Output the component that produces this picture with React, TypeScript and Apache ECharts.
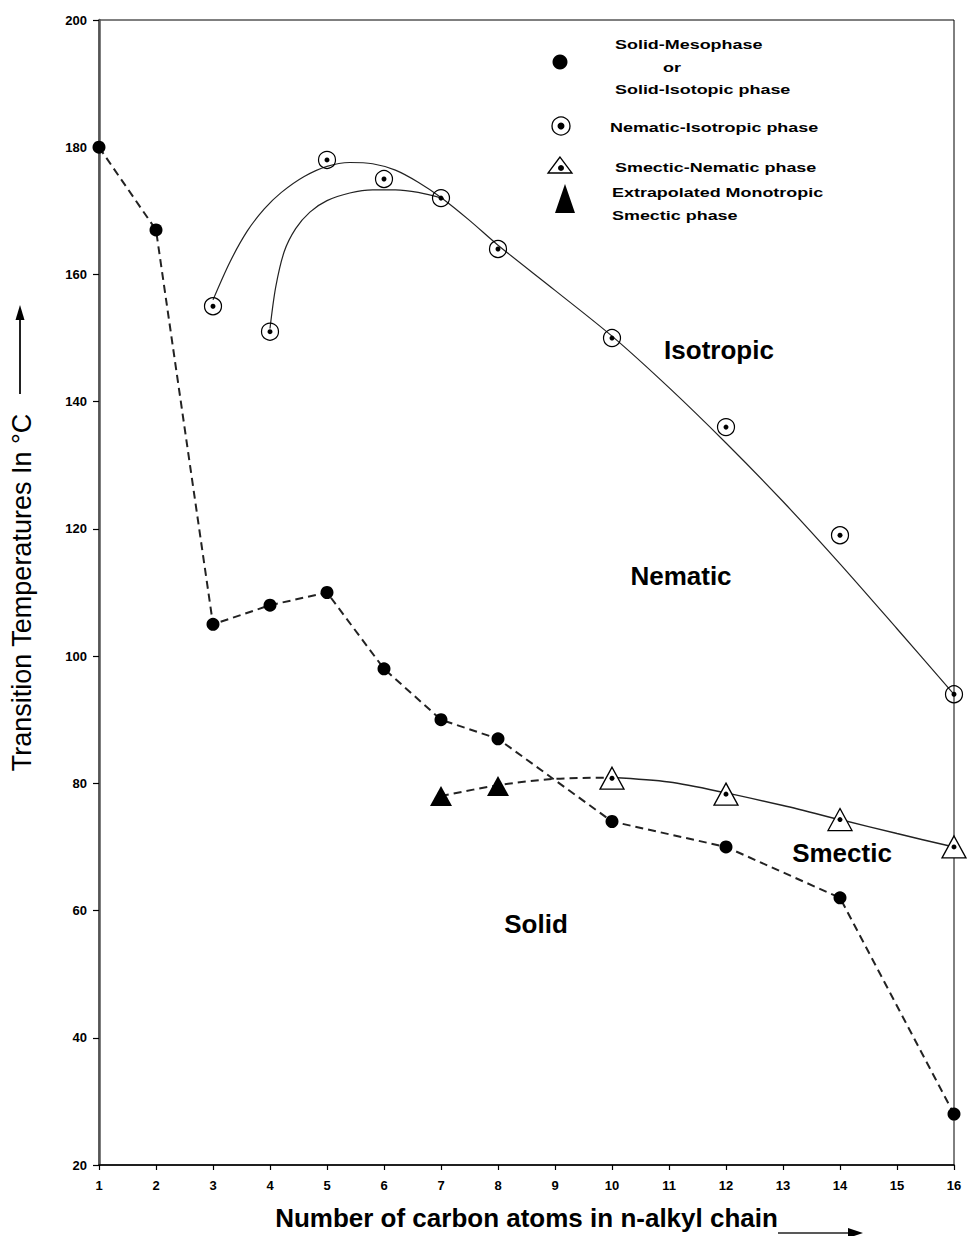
import React, { useEffect, useRef } from "react";
import * as echarts from "echarts";

// ---- data ----
const solidX = [1, 2, 3, 4, 5, 6, 7, 8, 10, 12, 14, 16];
const solidTemps = [180, 167, 105, 108, 110, 98, 90, 87, 74, 70, 62, 28];

const nematicIsoX = [3, 4, 5, 6, 7, 8, 10, 12, 14, 16];
const nematicIsoTemps = [155, 151, 178, 175, 172, 164, 150, 136, 119, 94];

const smecticNematicX = [10, 12, 14, 16];
const smecticNematicTemps = [80.8, 78.3, 74.3, 70];

const monotropicX = [7, 8];
const monotropicTemps = [78, 79.6];

// trend curves, points read along the hand-drawn curves of the reference
const oddCurveX = [3, 3.3, 3.6, 3.9, 4.2, 4.6, 5.0, 5.4, 5.8, 6.2, 6.6, 7.0, 7.5, 8, 9, 10, 11, 12, 13, 14, 15, 16];
const oddCurveY = [156, 162, 166.8, 170.3, 172.9, 175.4, 177.0, 177.6, 177.4, 176.4, 174.5, 172.1, 168.5, 164.6, 157.5, 150.3, 142.2, 133.5, 124.3, 114.5, 104.3, 94];
const evenCurveX = [4, 4.1, 4.25, 4.45, 4.7, 5.0, 5.4, 5.8, 6.2, 6.6, 7.05];
const evenCurveY = [151.5, 158, 163.6, 167.2, 169.8, 171.6, 172.8, 173.3, 173.3, 172.9, 171.9];
const smecticCurveX = [10, 11, 12, 13, 14, 15, 16];
const smecticCurveY = [80.9, 80.2, 78.5, 76.5, 74.3, 72.1, 70];
const extrapCurveX = [7, 8, 9, 10];
const extrapCurveY = [78, 79.7, 80.7, 80.9];

const xMin = 1, xMax = 16, xStep = 1;
const yMin = 20, yMax = 200, yStep = 20;

const regionLabels = ["Isotropic", "Nematic", "Smectic", "Solid"];
const legendTexts = [
  "Solid-Mesophase",
  "or",
  "Solid-Isotopic phase",
  "Nematic-Isotropic phase",
  "Smectic-Nematic phase",
  "Extrapolated Monotropic",
  "Smectic phase",
];

const zip = (xs: number[], ys: number[]) => xs.map((x, i) => [x, ys[i]]);

const FONT = "'Liberation Sans', Arial, Helvetica, sans-serif";

export default function App() {
  const ref = useRef<HTMLDivElement>(null);

  useEffect(() => {
    if (!ref.current) return;
    const chart = echarts.init(ref.current, null, { renderer: "svg" });

    const legendText = (text: string, x: number, y: number, align: string = "left") => ({
      type: "text",
      x,
      y,
      scaleX: 1.38,
      style: {
        text,
        fill: "#000",
        font: `bold 13px ${FONT}`,
        textAlign: align,
        textVerticalAlign: "middle",
      },
    });

    const regionText = (text: string, x: number, y: number) => ({
      type: "text",
      x,
      y,
      style: {
        text,
        fill: "#000",
        font: `bold 26px ${FONT}`,
        textAlign: "center",
        textVerticalAlign: "middle",
      },
    });

    const curve = (name: string, xs: number[], ys: number[], dashed: boolean, width: number) => ({
      name,
      type: "line",
      data: zip(xs, ys),
      smooth: 0.3,
      showSymbol: false,
      symbol: "none",
      lineStyle: { color: "#222", width, type: dashed ? [8, 5] : "solid" },
      z: 2,
    });

    const option: any = {
      animation: false,
      backgroundColor: "#fff",
      grid: {
        left: 98,
        right: 14,
        top: 20,
        bottom: 68,
        show: true,
        borderColor: "#000",
        borderWidth: 1,
        containLabel: false,
      },
      xAxis: {
        type: "value",
        min: xMin,
        max: xMax,
        interval: xStep,
        name: "Number of carbon atoms in n-alkyl chain",
        nameLocation: "middle",
        nameGap: 40,
        nameTextStyle: { fontFamily: FONT, fontWeight: "bold", fontSize: 26, color: "#000" },
        axisLine: { show: true, lineStyle: { color: "#000", width: 1.5 } },
        axisTick: { show: true, length: 5, lineStyle: { color: "#000", width: 1.2 } },
        axisLabel: { fontFamily: FONT, fontWeight: "bold", fontSize: 13, color: "#000", margin: 14 },
        splitLine: { show: false },
      },
      yAxis: {
        type: "value",
        min: yMin,
        max: yMax,
        interval: yStep,
        name: "Transition Temperatures In °C",
        nameLocation: "middle",
        nameRotate: 90,
        nameGap: 64,
        nameTextStyle: { fontFamily: FONT, fontSize: 27, color: "#000" },
        axisLine: { show: true, lineStyle: { color: "#555", width: 2.5 } },
        axisTick: { show: true, length: 6, lineStyle: { color: "#000", width: 1.2 } },
        axisLabel: { fontFamily: FONT, fontWeight: "bold", fontSize: 13, color: "#000", margin: 12 },
        splitLine: { show: false },
      },
      series: [
        {
          name: "Solid-Mesophase or Solid-Isotopic phase",
          type: "line",
          data: zip(solidX, solidTemps),
          symbol: "circle",
          symbolSize: 13,
          itemStyle: { color: "#000", opacity: 1 },
          lineStyle: { color: "#222", width: 2, type: [8, 5] },
          z: 3,
        },
        curve("odd curve", oddCurveX, oddCurveY, false, 1.2),
        curve("even curve", evenCurveX, evenCurveY, false, 1.2),
        curve("smectic curve", smecticCurveX, smecticCurveY, false, 1.5),
        curve("extrapolated curve", extrapCurveX, extrapCurveY, true, 2),
        {
          name: "Nematic-Isotropic phase",
          type: "scatter",
          data: zip(nematicIsoX, nematicIsoTemps),
          symbol: "circle",
          symbolSize: 17,
          itemStyle: { color: "rgba(255,255,255,0)", borderColor: "#000", borderWidth: 1.2, opacity: 1 },
          z: 4,
        },
        {
          name: "Nematic-Isotropic dot",
          type: "scatter",
          data: zip(nematicIsoX, nematicIsoTemps),
          symbol: "circle",
          symbolSize: 5,
          itemStyle: { color: "#000", opacity: 1 },
          z: 5,
        },
        {
          name: "Smectic-Nematic phase",
          type: "scatter",
          data: zip(smecticNematicX, smecticNematicTemps),
          symbol: "triangle",
          symbolSize: [24, 22],
          itemStyle: { color: "#fff", borderColor: "#000", borderWidth: 1.3, opacity: 1 },
          z: 4,
        },
        {
          name: "Smectic-Nematic dot",
          type: "scatter",
          data: zip(smecticNematicX, smecticNematicTemps),
          symbol: "circle",
          symbolSize: 5,
          itemStyle: { color: "#000", opacity: 1 },
          z: 5,
        },
        {
          name: "Extrapolated Monotropic Smectic phase",
          type: "scatter",
          data: zip(monotropicX, monotropicTemps),
          symbol: "triangle",
          symbolSize: [22, 20],
          itemStyle: { color: "#000", opacity: 1 },
          z: 4,
        },
      ],
      graphic: [
        // y-axis arrow
        { type: "line", shape: { x1: 20, y1: 394, x2: 20, y2: 318 }, style: { stroke: "#222", lineWidth: 2 } },
        { type: "polygon", shape: { points: [[20, 305], [15.5, 320], [24.5, 320]] }, style: { fill: "#000" } },
        // x-axis arrow
        { type: "line", shape: { x1: 778, y1: 1233, x2: 850, y2: 1233 }, style: { stroke: "#222", lineWidth: 1.5 } },
        { type: "polygon", shape: { points: [[863, 1233], [848, 1228], [848, 1238]] }, style: { fill: "#000" } },
        // region labels
        regionText(regionLabels[0], 719, 350),
        regionText(regionLabels[1], 681, 576),
        regionText(regionLabels[2], 842, 853),
        regionText(regionLabels[3], 536, 924),
        // legend markers
        { type: "circle", shape: { cx: 560, cy: 62, r: 7.5 }, style: { fill: "#000" } },
        { type: "circle", shape: { cx: 561, cy: 126, r: 9 }, style: { fill: "none", stroke: "#000", lineWidth: 1.3 } },
        { type: "circle", shape: { cx: 561, cy: 126, r: 3.5 }, style: { fill: "#000" } },
        {
          type: "polygon",
          shape: { points: [[560, 157], [548, 173], [572, 173]] },
          style: { fill: "#fff", stroke: "#000", lineWidth: 1.3 },
        },
        { type: "circle", shape: { cx: 561, cy: 168, r: 3 }, style: { fill: "#000" } },
        { type: "polygon", shape: { points: [[565, 184], [555, 213], [575, 213]] }, style: { fill: "#000" } },
        // legend texts
        legendText(legendTexts[0], 615, 44),
        legendText(legendTexts[1], 663, 67),
        legendText(legendTexts[2], 615, 89),
        legendText(legendTexts[3], 610, 127),
        legendText(legendTexts[4], 615, 167),
        legendText(legendTexts[5], 612, 192),
        legendText(legendTexts[6], 612, 215),
      ],
    };

    chart.setOption(option);
    return () => chart.dispose();
  }, []);

  return (
    <div
      ref={ref}
      style={{ position: "absolute", left: 0, top: 0, width: 968, height: 1236, background: "#fff" }}
    />
  );
}
